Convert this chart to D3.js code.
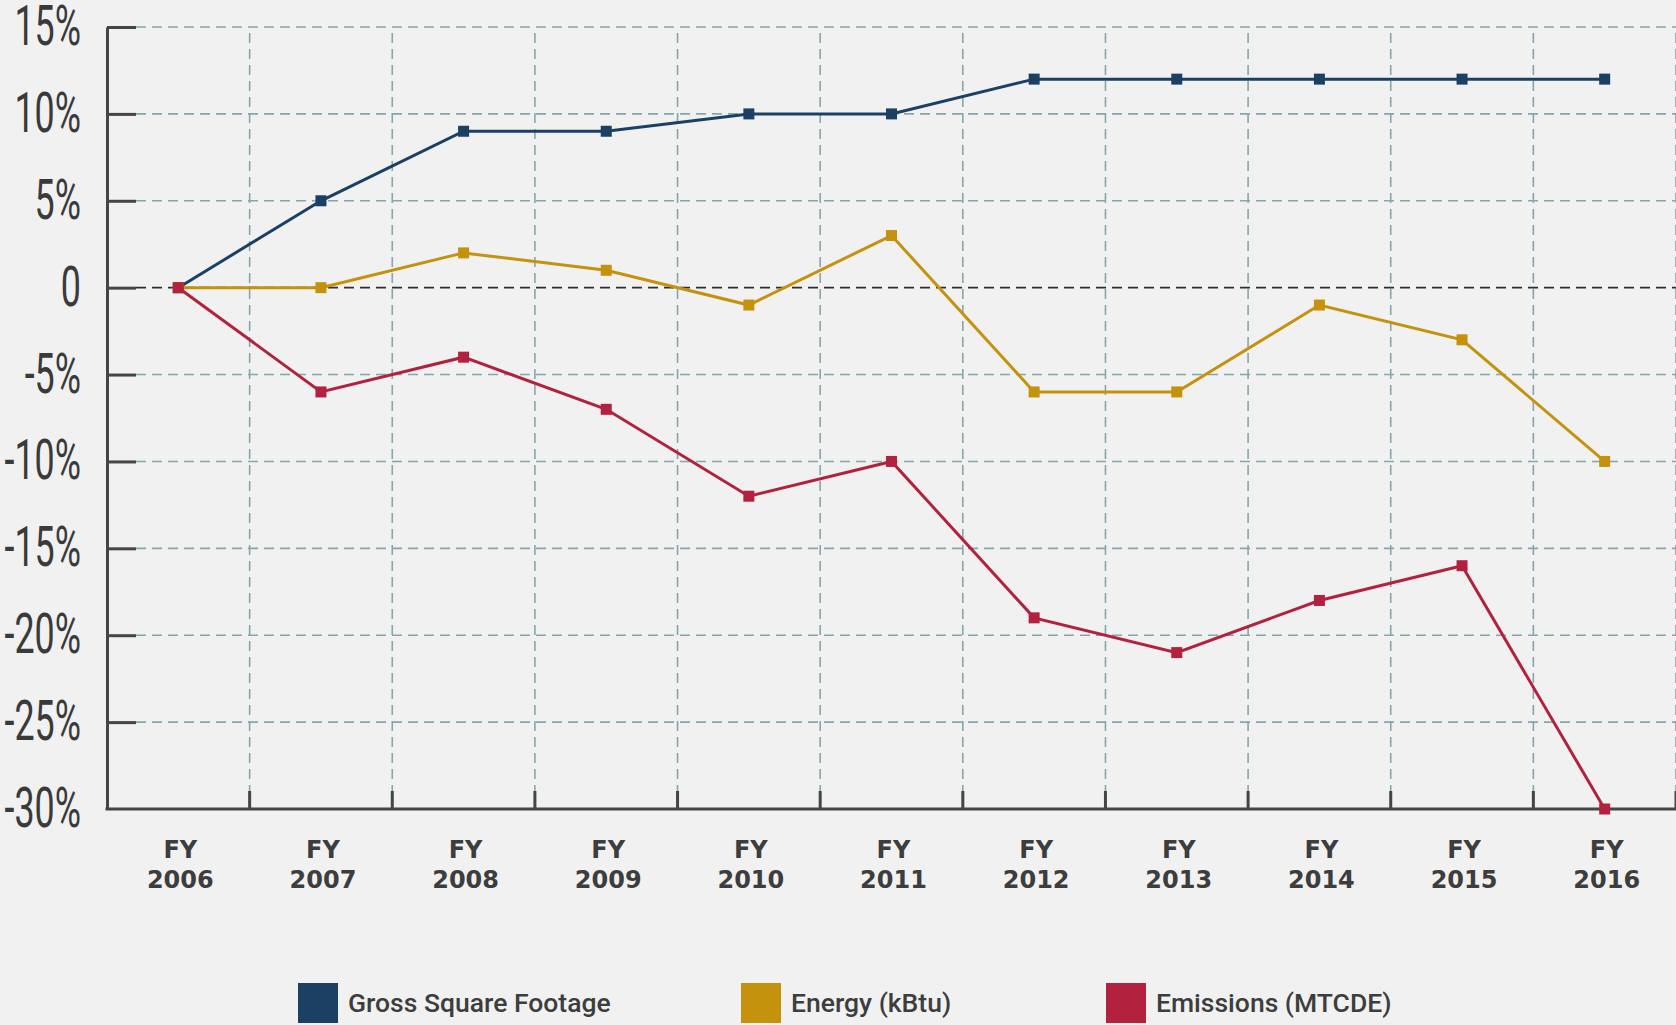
<!DOCTYPE html>
<html>
<head>
<meta charset="utf-8">
<script src="https://cdn.jsdelivr.net/npm/d3@7"></script>
<style>
html, body { margin: 0; padding: 0; background: #f1f1f1; }
svg { display: block; }
</style>
</head>
<body>
<script>
// data (percent change vs FY 2006)
var years = ["2006", "2007", "2008", "2009", "2010", "2011", "2012", "2013", "2014", "2015", "2016"];
var grossSqFt = [0, 5, 9, 9, 10, 10, 12, 12, 12, 12, 12];
var energy = [0, 0, 2, 1, -1, 3, -6, -6, -1, -3, -10];
var emissions = [0, -6, -4, -7, -12, -10, -19, -21, -18, -16, -30];
var yTicks = [15, 10, 5, 0, -5, -10, -15, -20, -25, -30];
var yTickLabels = ["15%", "10%", "5%", "0", "-5%", "-10%", "-15%", "-20%", "-25%", "-30%"];
var seriesNames = ["Gross Square Footage", "Energy (kBtu)", "Emissions (MTCDE)"];
var seriesColors = ["#1c4063", "#c4920d", "#b2213d"];

var width = 1676, height = 1025;
var plotLeft = 107, plotRight = 1676, plotTop = 27, plotBottom = 809;
var axisColor = "#454545";
var gridColor = "#84a7ab";
var legendX = [298, 741, 1106];

var x = d3.scaleBand().domain(years).range([plotLeft, plotRight]);
var y = d3.scaleLinear().domain([-30, 15]).range([plotBottom, plotTop]);
var bw = x.bandwidth();

var svg = d3.select("body")
    .append("svg")
    .attr("width", width)
    .attr("height", height)
    .style("background-color", "#f1f1f1");

// horizontal grid
svg.append("g").selectAll("line")
    .data(yTicks.filter(function(d) { return d != -30; }))
    .enter().append("line")
    .attr("x1", plotLeft + 29)
    .attr("x2", plotRight)
    .attr("y1", function(d) { return y(d); })
    .attr("y2", function(d) { return y(d); })
    .attr("stroke", function(d) { return d == 0 ? "#2e2e2e" : gridColor; })
    .attr("stroke-width", 1.6)
    .attr("stroke-dasharray", "10,6");

// vertical grid at band edges
svg.append("g").selectAll("line")
    .data(years)
    .enter().append("line")
    .attr("x1", function(d) { return x(d) + bw; })
    .attr("x2", function(d) { return x(d) + bw; })
    .attr("y1", plotTop + 6)
    .attr("y2", plotBottom)
    .attr("stroke", gridColor)
    .attr("stroke-width", 1.6)
    .attr("stroke-dasharray", "10,6");

// y axis: line + inward ticks
var yAxis = d3.axisRight(y)
    .tickValues(yTicks.slice(0, -1))
    .tickSize(29)
    .tickSizeOuter(0)
    .tickFormat("");
var yg = svg.append("g").attr("transform", "translate(" + plotLeft + ",0)").call(yAxis);
yg.select(".domain").attr("stroke", axisColor).attr("stroke-width", 3);
yg.selectAll(".tick line").attr("stroke", axisColor).attr("stroke-width", 3);

// x axis line and upward ticks at band edges
svg.append("line")
    .attr("x1", plotLeft - 1.5).attr("x2", plotRight)
    .attr("y1", plotBottom).attr("y2", plotBottom)
    .attr("stroke", axisColor).attr("stroke-width", 3);
svg.append("g").selectAll("line")
    .data(years)
    .enter().append("line")
    .attr("x1", function(d) { return x(d) + bw; })
    .attr("x2", function(d) { return x(d) + bw; })
    .attr("y1", plotBottom - 18)
    .attr("y2", plotBottom)
    .attr("stroke", axisColor)
    .attr("stroke-width", 3);

// y tick labels (condensed look)
var ylab = svg.append("g").selectAll("g")
    .data(yTicks)
    .enter().append("g")
    .attr("transform", function(d) { return "translate(81," + (y(d) + 18) + ")"; });
ylab.append("text")
    .attr("transform", "scale(0.64,1)")
    .attr("text-anchor", "end")
    .attr("font-family", "Roboto, 'Liberation Sans', sans-serif")
    .attr("font-size", 56)
    .attr("fill", "#3a3a3a")
    .text(function(d, i) { return yTickLabels[i]; });

// x tick labels
var xlab = svg.append("g").selectAll("text")
    .data(years)
    .enter().append("text")
    .attr("text-anchor", "middle")
    .attr("font-family", "'DejaVu Sans', sans-serif")
    .attr("font-weight", "bold")
    .attr("font-size", 24)
    .attr("fill", "#3d3d3d");
xlab.append("tspan")
    .attr("x", function(d) { return x(d) + bw / 2 + 2; })
    .attr("y", 858)
    .text("FY");
xlab.append("tspan")
    .attr("x", function(d) { return x(d) + bw / 2 + 2; })
    .attr("y", 888)
    .text(function(d) { return d; });

// lines + square markers
var allSeries = [grossSqFt, energy, emissions];
var line = d3.line()
    .x(function(d, i) { return x(years[i]) + bw / 2; })
    .y(function(d) { return y(d); });

allSeries.forEach(function(values, s) {
    svg.append("path")
        .attr("d", line(values))
        .attr("fill", "none")
        .attr("stroke", seriesColors[s])
        .attr("stroke-width", 3);
    svg.append("g").selectAll("rect")
        .data(values)
        .enter().append("rect")
        .attr("x", function(d, i) { return x(years[i]) + bw / 2 - 5.5; })
        .attr("y", function(d) { return y(d) - 5.5; })
        .attr("width", 11)
        .attr("height", 11)
        .attr("fill", seriesColors[s]);
});

// legend
var leg = svg.append("g").selectAll("g")
    .data(seriesNames)
    .enter().append("g")
    .attr("transform", function(d, i) { return "translate(" + legendX[i] + ",983)"; });
leg.append("rect")
    .attr("width", 40)
    .attr("height", 40)
    .attr("fill", function(d, i) { return seriesColors[i]; });
leg.append("text")
    .attr("x", 50)
    .attr("y", 29)
    .attr("font-family", "Roboto, sans-serif")
    .attr("font-weight", 500)
    .attr("font-size", 26.5)
    .attr("fill", "#3d3d3d")
    .text(function(d) { return d; });
</script>
</body>
</html>
